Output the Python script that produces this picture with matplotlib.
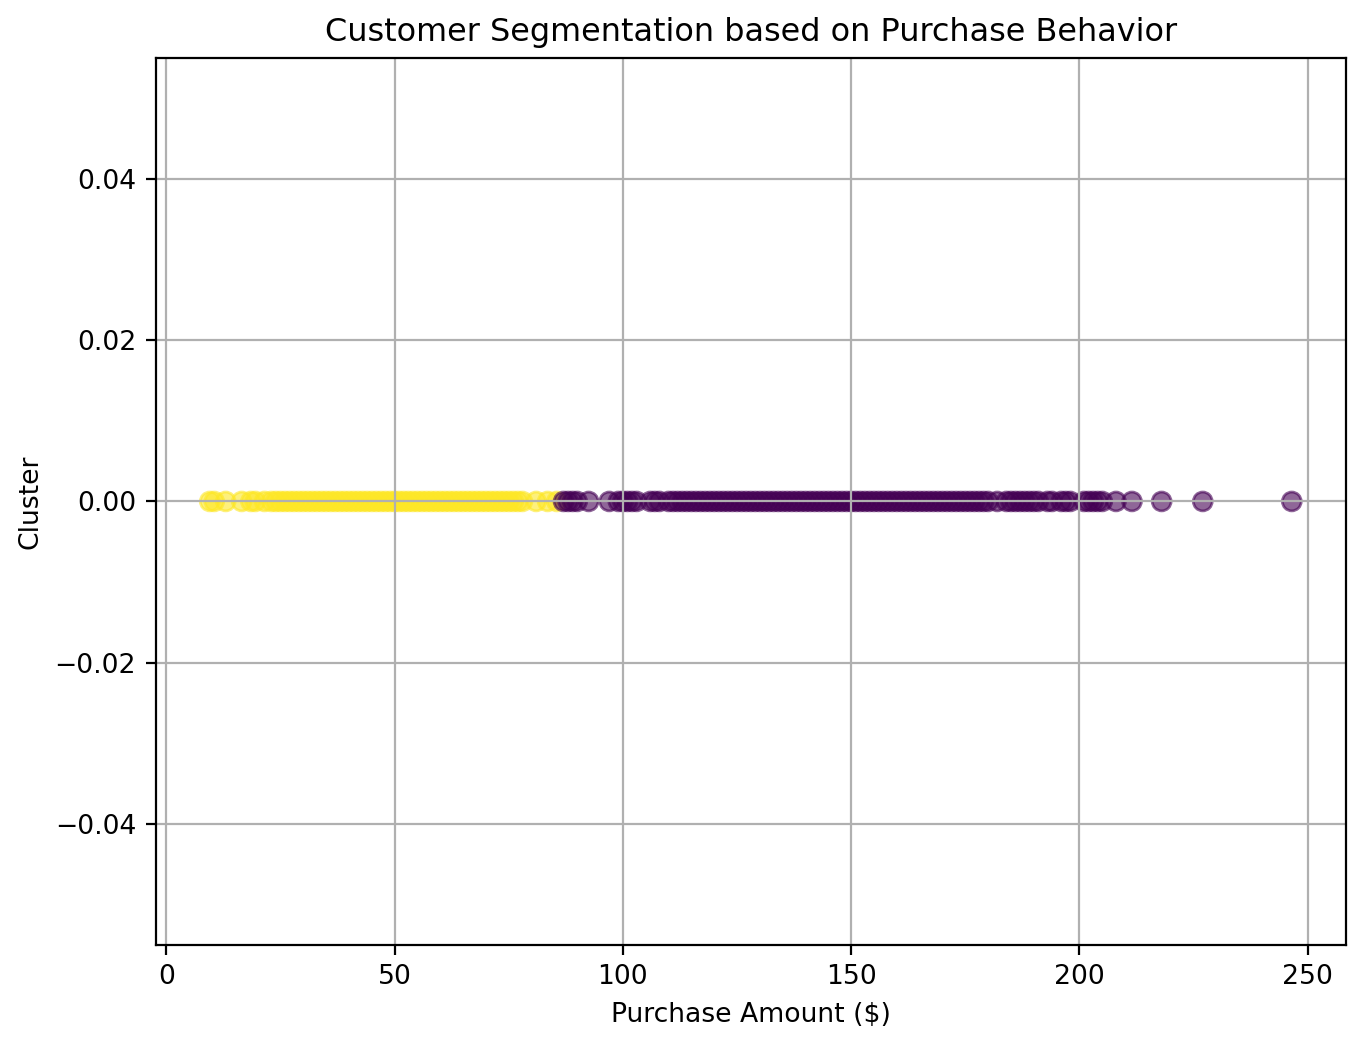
import matplotlib
matplotlib.use("Agg")
import matplotlib.pyplot as plt

plt.rcParams['font.size'] = 9.57

cluster1_x = [9.5, 10.5, 13, 16.5, 18.5, 19.5, 21.5, 23, 24, 25, 26, 27, 28, 29, 30, 31, 32, 33, 34,
              35, 36, 37, 38, 39, 40, 41, 42, 43, 44, 45, 46, 47, 48, 49, 50, 51, 52, 53, 54, 55,
              56, 57, 58, 59, 60, 61, 62, 63, 64, 65, 66, 67, 68, 69, 70, 71, 72, 73, 74, 75, 76,
              77, 78, 81, 83.5, 85.5]
cluster0_x = [87, 88, 89, 90, 92.5, 97, 99, 100, 101, 102, 103, 106, 107, 108, 110, 111, 112, 113,
              114, 115, 116, 117, 118, 119, 120, 121, 122, 123, 124, 125, 126, 127, 128, 129, 130,
              131, 132, 133, 134, 135, 136, 137, 138, 139, 140, 141, 142, 143, 144, 145, 146, 147,
              148, 149, 150, 151, 152, 153, 154, 155, 156, 157, 158, 159, 160, 161, 162, 163, 164,
              165, 166, 167, 168, 169, 170, 171, 172, 173, 174, 175, 176, 177, 178, 179, 180, 182,
              184, 185, 186, 187, 188, 189, 190, 191, 193, 194, 196, 197, 198, 201, 202, 203, 204,
              205, 208, 211.5, 218, 227, 246.5]
clusters = [1] * len(cluster1_x) + [0] * len(cluster0_x)
xs = cluster1_x + cluster0_x
ys = [0] * len(xs)

fig = plt.figure(figsize=(6.825, 5.23), dpi=200)
ax = fig.add_axes([0.114, 0.0966, 0.872, 0.848])
ax.scatter(xs, ys, c=clusters, cmap="viridis", s=46, alpha=0.6)
ax.set_title("Customer Segmentation based on Purchase Behavior")
ax.set_xlabel("Purchase Amount ($)")
ax.set_ylabel("Cluster")
ax.grid(True)
fig.savefig("out.png")
